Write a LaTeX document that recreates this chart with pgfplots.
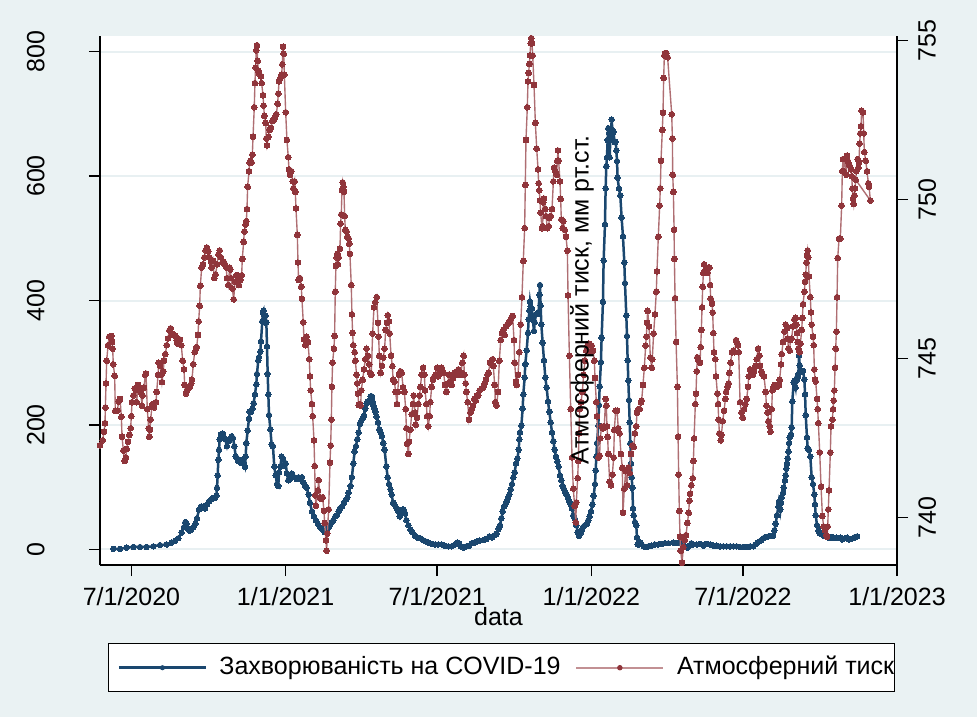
\documentclass[border=0pt]{standalone}
\usepackage{fontspec}
\setmainfont{Liberation Sans}
\usepackage{pgfplots}
\usepackage{pgfplotstable}
\pgfplotsset{compat=1.18}
\definecolor{bgc}{RGB}{234,242,243}
\definecolor{gridc}{RGB}{232,240,242}
\definecolor{navyc}{RGB}{26,71,111}
\definecolor{maroonc}{RGB}{144,53,59}

\pgfplotstableread{
day val
-21.7 1
-13.7 1
-5.8 3
2.2 4
10.2 4
18.1 4
26.1 5
34.0 7
42.0 8
48.0 11
52.0 14
55.9 18
59.9 27
62.7 36
64.3 44
65.9 41
67.5 34
69.1 30
71.5 32
73.8 36
76.2 41
78.2 50
80.6 64
83.0 69
85.4 69
87.7 66
90.1 72
92.5 77
94.9 80
97.3 83
99.7 83
101.3 86
102.1 99
102.9 119
103.7 144
104.5 160
105.3 177
106.8 185
109.2 186
111.6 178
114.0 166
115.6 174
117.2 176
119.6 182
121.2 179
122.8 166
124.4 150
125.9 147
127.5 142
129.1 142
130.7 139
132.3 144
133.9 139
135.5 133
136.3 149
137.1 171
138.7 191
140.3 210
141.1 221
142.7 221
144.3 226
145.8 235
147.4 249
149.0 265
149.8 282
151.4 304
152.2 309
153.8 318
154.6 334
156.2 367
157.0 381
157.8 384
158.6 376
159.4 365
160.2 376
161.0 365
161.8 326
162.6 282
163.4 249
164.2 216
165.8 193
167.3 169
168.9 166
170.5 133
172.1 119
173.7 105
175.3 102
176.1 124
177.7 133
179.3 149
180.9 146
182.5 135
184.1 138
185.6 122
187.2 111
188.8 113
191.6 122
194.8 116
197.2 113
199.5 116
201.9 113
203.5 116
205.1 108
207.5 102
209.1 99
211.5 88
213.1 75
215.5 61
217.9 53
220.2 47
222.6 41
225.0 36
227.4 33
229.0 30
230.6 28
232.2 30
233.8 33
235.4 36
237.0 39
239.3 44
240.9 47
243.3 53
244.9 55
247.3 61
248.9 66
251.3 69
253.7 75
256.1 80
257.7 83
259.2 91
261.6 102
263.2 116
264.8 138
266.4 157
268.0 166
269.6 177
271.2 188
272.8 202
274.4 207
276.0 210
277.6 215
279.1 226
280.7 235
282.3 238
283.9 238
285.5 246
287.1 246
287.9 238
288.7 232
290.3 226
291.1 221
292.7 213
294.3 204
295.9 193
297.5 188
299.0 182
300.6 171
302.2 160
304.3 133
305.9 116
307.5 105
309.1 97
310.7 88
312.3 75
313.8 72
315.4 69
317.0 66
318.6 61
320.2 53
321.8 58
323.4 64
325.0 64
326.6 58
328.2 47
330.6 39
333.0 32
335.3 28
338.5 22
341.7 19
344.9 18
348.1 15
351.3 13
354.4 11
358.4 9
362.4 8
366.4 8
370.4 8
374.3 6
378.3 5
382.3 5
386.3 8
388.7 11
391.1 10
393.4 5
396.6 3
399.8 5
403.0 6
406.2 10
409.4 11
412.5 13
415.7 14
420.1 15
424.1 17
427.2 21
430.4 19
433.6 23
436.0 25
438.4 33
440.0 39
441.6 50
443.2 61
444.8 69
446.4 72
447.9 77
449.5 83
451.1 88
452.7 97
454.3 105
455.9 116
457.5 124
459.1 138
460.7 146
462.3 160
463.1 177
463.9 188
465.5 199
467.0 226
467.8 249
469.4 276
470.2 298
471.8 320
473.4 348
474.2 370
475.0 384
475.8 398
476.6 390
477.4 373
478.2 387
479.0 370
480.6 351
481.4 365
483.0 378
484.6 378
486.1 381
486.9 409
487.7 425
488.5 392
489.3 362
490.9 332
492.5 304
494.1 276
495.7 260
497.3 238
498.9 221
500.5 204
502.1 188
503.7 174
505.3 160
506.8 149
508.4 141
510.0 133
511.6 119
513.2 111
514.8 102
516.4 97
518.0 91
519.6 88
521.2 83
522.8 77
524.4 72
526.0 66
527.5 55
529.1 50
531.1 39
532.7 28
534.3 22
535.9 25
537.5 30
539.1 36
541.4 39
543.8 41
545.4 47
547.0 53
548.6 61
550.2 72
551.8 86
553.4 105
554.2 127
555.0 149
555.8 171
557.4 199
558.2 232
559.0 262
560.5 301
561.3 340
562.9 398
563.7 464
565.3 522
566.1 580
566.9 616
567.7 630
568.5 658
569.3 677
570.1 669
570.9 630
571.7 658
572.5 669
573.3 691
574.1 674
574.9 658
575.7 671
576.5 655
578.1 655
578.9 641
579.7 624
580.4 597
582.0 580
583.6 569
585.2 533
586.8 503
588.4 461
589.2 428
590.8 376
591.6 343
592.4 304
593.2 271
594.0 240
594.8 204
595.6 171
596.4 138
597.2 116
598.0 99
598.8 66
599.6 55
601.1 44
602.7 39
603.5 19
604.3 8
605.9 8
607.5 11
609.1 8
611.5 5
613.9 4
617.1 5
621.1 6
625.0 8
629.0 8
633.0 9
637.0 10
640.9 10
647.0 11
651.0 10
654.1 11
656.5 12
658.9 8
661.3 5
663.7 3
666.1 6
668.5 10
670.9 8
674.8 8
678.8 9
682.8 6
686.8 9
690.8 8
694.7 6
698.7 6
702.7 5
706.7 5
710.7 5
714.6 5
718.6 5
722.6 5
726.6 4
730.6 4
734.5 4
738.5 5
742.5 5
744.9 8
747.3 11
749.7 13
752.1 15
754.4 18
756.8 20
760.4 21
763.6 22
765.9 22
767.5 30
769.1 41
770.7 55
772.3 69
773.1 77
773.9 72
774.7 64
775.5 75
776.3 83
777.9 91
778.7 99
780.3 111
781.1 119
781.9 130
782.7 138
783.5 146
784.3 157
785.1 171
785.9 180
786.6 182
787.4 185
788.2 196
789.0 238
790.6 268
791.4 271
793.0 260
793.8 271
795.4 276
796.2 282
797.0 312
797.8 296
798.6 287
800.2 285
801.8 287
803.4 273
804.2 249
805.0 216
806.5 180
807.3 163
808.9 160
810.5 149
812.1 116
813.7 105
815.3 88
816.1 72
816.9 55
818.5 39
820.1 30
821.7 26
824.1 24
826.4 22
828.8 21
832.0 19
834.4 19
836.8 20
839.2 18
841.6 19
844.0 18
846.3 19
848.7 16
851.9 18
854.3 19
856.7 16
859.1 17
861.5 18
863.9 20
866.3 21
}\covid

\pgfplotstableread{
day val
-37.6 742.27
-34.4 742.43
-32.8 742.70
-31.6 742.97
-31.2 743.46
-30.4 744.22
-29.6 744.93
-28.0 745.42
-26.5 745.69
-24.1 745.71
-23.3 745.52
-22.5 745.31
-21.7 744.82
-20.1 744.46
-19.3 743.36
-16.9 743.36
-15.3 743.65
-13.7 743.73
-12.1 743.17
-11.3 742.54
-9.7 742.11
-8.1 741.78
-6.6 741.89
-5.8 742.16
-4.2 742.38
-2.6 742.60
-1.0 742.81
-0.2 743.19
0.6 743.63
2.2 743.84
3.8 744.06
5.4 744.01
6.2 743.63
7.8 744.17
9.4 744.06
11.0 743.95
12.5 743.52
13.3 743.84
14.9 744.08
16.5 744.49
17.3 744.53
18.9 743.41
20.5 742.81
21.3 742.54
22.1 742.76
22.9 743.08
24.5 743.52
25.3 743.57
26.9 743.46
29.3 743.63
30.1 743.95
31.7 744.49
32.4 744.87
34.0 744.77
35.6 744.49
36.4 744.26
38.0 744.60
38.8 744.93
40.4 745.14
42.0 745.42
43.6 745.63
45.2 745.88
46.8 745.95
48.4 745.79
50.0 745.74
52.3 745.71
53.9 745.58
54.7 745.47
56.3 745.58
57.9 745.60
59.5 745.42
61.1 744.93
62.7 744.66
63.5 744.17
65.1 743.90
66.7 744.01
67.5 744.06
69.9 744.11
71.5 744.22
72.2 744.33
73.8 744.82
75.4 745.20
77.0 745.31
77.8 745.36
79.4 745.74
80.2 746.17
81.4 746.66
82.2 747.29
83.8 747.86
85.4 747.96
87.0 748.18
88.5 748.40
90.1 748.49
91.7 748.37
93.3 748.18
94.9 748.05
95.7 747.86
97.3 748.07
98.9 747.53
100.5 747.64
102.1 747.96
103.7 748.27
105.3 748.40
106.8 748.18
108.4 748.02
110.0 748.05
111.6 747.96
113.2 747.86
114.0 747.53
115.6 747.31
117.2 747.86
118.0 747.80
118.8 747.53
120.4 747.20
122.0 746.86
123.6 747.42
125.2 747.62
126.7 747.62
128.3 747.31
129.9 747.47
131.5 747.62
132.3 748.13
133.9 748.67
134.7 748.99
136.3 749.21
137.1 749.32
137.9 749.70
138.7 750.40
140.3 750.89
141.1 751.16
141.9 751.22
143.5 751.16
144.3 751.41
145.1 751.97
146.6 752.90
147.4 753.66
148.2 754.15
149.0 754.69
149.8 754.85
150.6 754.36
151.4 754.04
153.0 753.93
154.6 753.87
155.4 753.66
157.0 753.28
157.8 752.95
158.6 752.63
160.2 752.41
161.0 751.92
161.8 751.70
163.4 751.97
165.0 752.19
166.5 752.25
168.1 752.47
169.7 752.50
171.3 752.57
172.9 752.68
174.5 753.01
175.3 753.33
176.1 753.71
177.7 753.82
179.3 753.93
180.1 754.25
180.9 754.80
181.7 754.58
182.5 753.93
184.1 752.74
185.6 751.87
187.2 751.33
188.0 750.95
189.2 750.78
190.8 750.89
192.4 750.57
193.2 750.35
194.8 750.57
195.6 750.24
196.4 749.72
198.0 748.89
198.8 748.02
199.5 747.47
201.1 747.53
202.7 747.26
203.5 746.88
205.1 746.14
205.9 745.60
207.5 745.42
209.1 745.69
210.7 745.52
212.3 744.98
213.1 744.44
213.9 744.00
215.5 743.57
216.3 743.19
217.9 742.43
218.7 741.62
219.4 740.70
220.2 740.37
222.6 740.86
223.4 741.18
225.0 740.64
226.6 740.59
228.2 740.64
229.8 740.21
230.6 739.83
232.2 739.29
233.0 738.96
233.8 739.50
235.4 740.26
237.0 741.73
237.8 742.27
238.6 743.08
239.3 744.11
240.1 744.87
241.7 745.31
242.5 745.71
243.3 747.10
244.1 747.91
244.9 748.18
245.7 748.29
246.5 747.96
247.3 748.18
248.9 748.45
249.7 749.24
250.5 749.53
251.3 750.29
252.1 750.54
252.9 750.40
253.7 750.24
254.5 749.48
255.3 749.05
256.9 748.99
257.7 748.83
259.2 748.78
260.0 748.61
260.8 748.29
262.4 747.31
263.2 746.39
264.0 745.81
264.8 745.42
266.4 745.20
267.2 744.93
268.8 744.49
269.6 744.22
270.4 743.90
271.2 743.54
272.8 743.57
273.6 743.52
274.4 744.00
276.0 744.33
277.6 744.66
279.2 744.98
280.7 745.31
282.3 745.09
283.9 744.82
284.7 744.55
286.3 744.49
287.9 745.79
289.5 746.61
291.1 746.77
292.7 746.93
294.3 746.12
295.1 745.69
295.9 745.09
297.5 744.55
299.0 744.77
300.6 745.03
302.2 745.31
303.5 745.90
305.1 746.12
305.9 746.36
307.5 746.17
308.3 745.79
309.9 745.09
311.5 744.76
312.3 744.33
313.9 744.27
315.4 743.95
317.0 743.57
317.8 743.95
319.4 744.49
321.0 744.60
322.6 744.55
324.2 744.10
325.8 743.95
327.4 743.41
328.2 742.81
329.0 742.32
330.6 742.00
331.4 742.38
332.9 742.76
334.5 743.25
336.1 743.57
336.9 743.84
338.5 743.30
339.3 742.92
340.9 743.14
342.5 743.57
344.1 743.84
344.9 744.11
346.5 744.49
348.1 744.71
349.7 744.49
350.5 744.00
352.1 743.57
352.9 743.19
354.4 742.87
356.0 743.19
356.8 743.63
358.4 744.11
360.0 744.33
361.6 744.44
363.2 744.49
364.8 744.71
366.4 744.44
368.0 744.55
370.4 744.71
372.7 744.55
374.3 744.17
375.9 743.95
377.5 744.22
379.1 744.49
380.7 744.28
382.3 744.17
383.9 744.38
385.5 744.55
387.1 744.49
388.7 744.49
390.3 744.66
391.9 744.49
393.4 744.55
395.0 744.87
396.6 745.09
397.4 744.49
399.0 744.22
399.8 743.95
401.4 743.63
403.0 743.08
404.6 743.30
406.2 743.41
407.8 743.52
409.4 743.73
411.0 743.68
412.5 743.84
414.1 743.84
415.7 744.00
418.5 744.06
420.1 744.11
421.7 744.22
423.3 744.33
424.9 744.49
426.4 744.55
428.0 744.87
429.6 744.93
431.2 744.98
432.0 744.77
433.6 744.17
434.4 743.63
436.0 743.52
437.6 743.95
439.2 744.93
440.8 745.58
442.4 745.80
444.0 745.90
445.6 745.74
447.1 746.01
448.7 746.07
450.3 746.12
451.9 746.17
453.5 746.28
455.1 746.34
456.7 745.58
457.5 744.87
459.1 744.28
459.9 744.17
461.5 744.49
463.1 745.20
464.7 746.07
466.2 746.93
467.8 748.07
469.4 749.10
470.2 750.46
471.0 751.87
472.6 752.90
473.4 753.71
474.2 753.98
475.0 754.26
475.8 754.53
476.6 754.91
477.4 755.07
478.2 754.91
479.0 754.53
480.6 753.60
482.2 752.41
483.8 751.60
485.4 750.95
486.1 750.51
486.9 750.29
487.7 749.97
488.5 749.59
490.1 749.10
490.9 749.16
491.7 749.91
492.5 750.02
494.1 749.70
494.9 749.48
496.5 749.10
498.1 749.16
498.9 749.42
500.5 749.48
502.1 749.70
503.7 750.57
504.5 751.00
506.1 750.89
507.7 750.78
508.4 751.22
509.2 751.54
510.0 751.22
511.6 750.57
512.4 750.02
513.2 749.37
514.8 749.10
515.6 749.32
517.2 749.05
518.8 748.83
520.4 748.39
521.2 746.99
522.8 745.09
524.4 743.41
526.0 741.89
527.5 740.91
529.1 740.37
530.5 739.85
531.1 740.48
532.7 741.24
533.5 741.78
534.3 742.65
535.1 743.41
536.7 743.63
538.3 743.95
539.8 744.49
541.4 744.93
543.0 745.25
544.6 745.41
546.2 745.47
547.8 745.20
549.4 745.41
551.0 745.25
552.6 744.93
553.4 744.39
555.0 743.63
555.8 743.19
557.4 741.89
558.9 741.95
559.7 742.49
561.3 742.87
562.9 742.81
564.5 742.87
566.1 743.73
566.9 743.52
567.7 742.87
568.5 742.54
569.3 742.00
570.9 741.13
572.5 741.02
574.1 741.35
575.7 741.89
576.5 742.76
578.1 743.36
579.7 743.36
581.2 742.81
582.8 742.65
584.4 742.00
586.0 741.57
586.8 740.15
588.4 740.91
590.0 741.46
591.6 741.02
593.2 741.57
594.8 741.40
596.4 742.00
598.0 742.27
599.6 742.22
601.1 742.65
602.7 742.87
603.5 743.30
605.1 743.41
606.7 743.41
608.3 743.63
609.1 743.68
610.7 744.17
612.3 744.71
613.9 745.41
614.7 745.69
615.5 746.12
616.3 746.50
617.9 746.01
619.5 745.03
621.1 744.71
621.8 744.98
623.4 745.79
625.0 746.39
626.6 747.10
627.4 747.74
629.0 748.83
630.6 749.81
631.4 750.35
632.2 751.22
633.8 752.19
634.6 752.73
635.4 753.82
636.2 754.53
637.0 754.60
638.6 754.60
640.1 754.47
645.0 752.68
645.8 751.92
646.2 750.78
647.0 750.24
647.8 749.05
648.2 748.13
649.0 746.90
650.2 745.52
651.8 744.11
652.6 742.54
653.3 741.35
654.1 740.21
654.9 739.40
655.7 738.96
657.3 738.58
658.9 739.07
660.5 739.29
662.1 739.45
663.7 739.83
665.3 740.15
666.1 740.53
666.9 740.75
668.5 741.02
670.1 741.24
670.9 741.78
671.7 742.49
673.2 743.57
674.0 743.90
674.8 744.60
675.6 745.04
677.2 744.93
678.8 744.87
679.6 745.36
680.4 745.90
681.2 746.61
682.0 747.26
682.8 747.69
683.6 747.96
684.4 747.75
686.0 747.80
687.6 747.69
688.4 747.86
690.0 747.86
690.8 747.31
691.6 746.88
693.1 746.72
693.9 746.45
694.7 745.80
695.5 745.20
697.1 744.98
697.9 744.44
699.5 743.90
700.3 743.57
701.1 743.08
701.9 742.65
703.5 742.43
704.3 742.60
705.9 743.03
707.5 743.36
709.1 743.73
709.9 743.95
711.5 744.11
713.0 744.22
713.8 744.55
715.4 744.87
717.0 745.20
718.6 745.25
720.2 745.20
721.8 745.58
722.6 745.52
724.2 745.42
725.0 745.20
726.6 743.63
728.2 743.30
729.8 743.14
731.4 743.41
733.0 743.57
734.5 743.73
736.1 744.11
736.9 744.44
738.5 744.66
740.1 744.55
741.7 744.49
743.3 744.60
744.9 744.77
746.5 744.98
748.1 745.31
749.7 745.09
750.5 744.77
752.1 744.60
753.6 744.49
755.2 744.44
757.2 743.95
758.0 743.52
759.6 743.30
760.4 743.03
762.0 742.87
762.8 742.70
764.4 743.41
765.2 744.00
766.7 744.11
768.3 744.17
770.7 744.11
773.1 744.17
773.9 744.33
775.5 744.82
776.3 745.14
777.9 745.52
779.5 745.85
781.1 746.07
782.7 745.96
783.5 745.63
784.3 745.31
785.9 745.25
786.6 745.58
788.2 745.63
789.8 746.01
791.4 746.23
793.0 746.28
793.8 746.07
794.6 745.80
795.4 745.52
796.2 745.31
797.8 745.20
798.6 745.47
800.2 745.90
801.0 746.28
801.8 746.71
803.4 747.10
804.2 747.42
805.0 747.64
805.8 748.02
806.5 748.23
807.3 748.40
808.1 748.18
808.9 747.58
810.5 746.93
811.3 746.45
812.1 746.07
813.7 745.69
814.5 745.42
815.3 744.66
816.1 744.33
816.9 744.28
818.5 743.73
819.3 743.41
820.1 742.97
821.7 742.05
823.3 740.97
824.9 740.05
826.4 739.72
828.0 739.61
829.6 739.45
830.4 739.40
831.2 739.72
832.0 740.26
832.8 740.86
834.4 742.05
835.2 742.87
836.8 743.08
837.6 743.41
838.4 743.68
839.2 744.00
840.0 744.71
840.8 745.31
841.6 745.85
842.4 746.93
843.2 748.16
844.8 748.77
846.3 748.77
847.9 749.81
848.7 750.89
849.5 751.27
850.3 750.89
851.1 751.27
851.9 751.27
853.5 750.78
854.3 751.38
855.1 751.22
855.9 751.16
857.5 751.06
859.1 750.95
859.9 750.73
860.7 750.35
861.5 750.03
862.3 749.86
863.1 750.13
863.9 750.35
865.5 750.89
867.0 751.27
867.8 751.00
868.6 751.16
869.4 751.76
870.2 752.08
871.0 752.30
871.8 752.79
873.4 752.74
874.2 752.08
875.0 751.49
876.6 751.22
878.2 750.89
879.8 750.51
880.6 750.40
882.2 749.97
864.7 750.62
}\pressure

\begin{document}
\fontsize{10pt}{12pt}\selectfont
\begin{tikzpicture}
\fill[bgc] (-40pt,-60.8pt) rectangle (350.8pt,226pt);

\begin{axis}[
  name=main,
  width=318.8pt, height=211.6pt, scale only axis,
  xmin=-37.6, xmax=914, ymin=-25, ymax=825,
  axis x line*=bottom, axis y line*=left,
  axis line style={black, line width=0.6pt, -},
  axis background/.style={fill=white},
  xtick={0,184,365,549,730,914},
  xticklabels={7/1/2020,1/1/2021,7/1/2021,1/1/2022,7/1/2022,1/1/2023},
  ytick={0,200,400,600,800},
  tick align=outside,
  major tick length=4.4pt,
  tick style={black, line width=0.6pt},
  minor tick num=0,
  ymajorgrids,
  grid style={gridc, line width=0.8pt},
  /pgf/number format/assume math mode=true,
  xticklabel style={anchor=north, inner sep=0pt},
  xticklabel shift=4.4pt,
  yticklabel style={rotate=90, anchor=south, inner sep=0pt},
  yticklabel shift=17.6pt,
  xlabel={data},
  xlabel style={at={(axis description cs:0.5,-0.1153)}, anchor=base, inner sep=0pt},
  clip=false,
]
\addplot[navyc, line width=1pt, mark=*, mark size=1.1pt,
  mark options={fill=navyc, draw=navyc, line width=0pt}]
  table[x=day, y=val] {\covid};
\end{axis}

\begin{axis}[
  width=318.8pt, height=211.6pt, scale only axis,
  xmin=-37.6, xmax=914, ymin=738.51, ymax=755.14,
  axis x line=none, axis y line*=right,
  axis line style={black, line width=0.6pt, -},
  ytick={740,745,750,755},
  tick align=outside,
  major tick length=4.4pt,
  tick style={black, line width=0.6pt},
  /pgf/number format/assume math mode=true,
  yticklabel style={rotate=90, anchor=north, inner sep=0pt},
  yticklabel shift=4pt,
  ylabel={Атмосферний тиск, мм рт.ст.},
  ylabel style={at={(axis description cs:0.6048,0.501)}, anchor=center, inner sep=0pt},
  legend columns=2,
  legend style={at={(axis description cs:0.01,-0.1474)}, anchor=north west,
    draw=black, line width=0.4pt, fill=white,
    inner xsep=0pt, inner ysep=5pt, column sep=2pt,
    nodes={inner sep=0pt, text height=7.4pt, text depth=2pt}},
]
\addlegendimage{legend image code/.code={
  \path (-4pt,0pt) (38pt,0pt);
  \draw[navyc, line width=1pt] (0pt,0pt) -- (34.8pt,0pt);
  \fill[navyc] (17.4pt,0pt) circle (0.8pt);}}
\addlegendentry{Захворюваність на COVID-19}
\addplot[color=maroonc!72, line width=0.55pt, mark=*, mark size=1.15pt,
  mark options={fill=maroonc, draw=maroonc, line width=0pt},
  legend image code/.code={
  \path (-4pt,0pt) (38pt,0pt);
  \draw[maroonc!55, line width=0.8pt] (0pt,0pt) -- (34.8pt,0pt);
  \fill[maroonc] (17.4pt,0pt) circle (0.8pt);}]
  table[x=day, y=val] {\pressure};
\addlegendentry{Атмосферний тиск}
\end{axis}
\pgfresetboundingbox
\useasboundingbox (-40pt,-60.8pt) rectangle (350.8pt,226pt);
\end{tikzpicture}
\end{document}
